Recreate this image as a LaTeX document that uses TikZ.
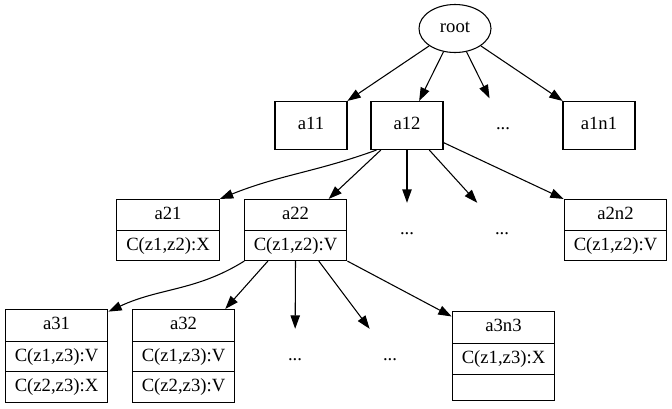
\documentclass[tikz,border=0pt]{standalone}
\usepackage{fontspec}
\setmainfont{Liberation Serif}
\usetikzlibrary{arrows.meta,shapes.geometric,shapes.multipart}
\begin{document}
\begin{tikzpicture}[x=0.75pt,y=-0.75pt,
  every node/.style={font=\fontsize{14}{16}\selectfont, text height=10pt, text depth=3.5pt, line width=0.8pt},
  arr/.style={line width=0.8pt,-{Triangle[length=10pt,width=7pt]}},
  oval/.style={draw,ellipse,minimum width=54pt,minimum height=36pt,inner sep=0pt},
  plainbox/.style={draw,rectangle,minimum width=54pt,minimum height=36pt,inner sep=0pt},
  dots/.style={rectangle,minimum width=54pt,minimum height=40pt,inner sep=0pt},
  recb/.style={draw,rectangle split,rectangle split parts=2,minimum width=77pt,inner xsep=2pt,inner ysep=4.5pt},
  recc/.style={draw,rectangle split,rectangle split parts=3,minimum width=77pt,inner xsep=2pt,inner ysep=4.75pt}]
\useasboundingbox (0,0) rectangle (672,408);
\node[oval] (root) at (455,28.5) {root};
\node[plainbox] (a11) at (311,125.5) {a11};
\node[plainbox] (a12) at (407,125.5) {a12};
\node[dots] (d1) at (503,125.5) {...};
\node[plainbox] (a1n1) at (599,125.5) {a1n1};
\node[recb] (a21) at (168,230) {a21\nodepart{two}C(z1,z2):X};
\node[recb] (a22) at (295.5,230) {a22\nodepart{two}C(z1,z2):V};
\node[dots] (d21) at (407,230) {...};
\node[dots] (d22) at (502,230) {...};
\node[recb] (a2n2) at (615.5,230) {a2n2\nodepart{two}C(z1,z2):V};
\node[recc] (a31) at (56.5,356) {a31\nodepart{two}C(z1,z3):V\nodepart{three}C(z2,z3):X};
\node[recc] (a32) at (183.5,356) {a32\nodepart{two}C(z1,z3):V\nodepart{three}C(z2,z3):V};
\node[dots] (d31) at (295,356) {...};
\node[dots] (d32) at (390,356) {...};
\node[recc] (a3n3) at (503.5,356) {a3n3\nodepart{two}C(z1,z3):X\nodepart{three}\phantom{C}};
\draw[arr] (root) -- (a11);
\draw[arr] (root) -- (a12);
\draw[arr] (root) -- (d1);
\draw[arr] (root) -- (a1n1);
\draw[arr] ([xshift=4.5pt]a12.south west) to[out=-160,in=22] (a21.north east);
\draw[arr] (a12) -- (a22);
\draw[arr] (a12.south) -- (d21);
\draw[arr] (a12) -- (d22);
\draw[arr] (a12) -- (a2n2.north west);
\draw[arr] ([xshift=0.5pt]a22.south west) to[out=-148,in=25] ([yshift=-2pt]a31.north east);
\draw[arr] (a22) -- (a32);
\draw[arr] (a22.south) -- (d31);
\draw[arr] (a22) -- (d32);
\draw[arr] (a22.south east) -- ([yshift=-4pt]a3n3.north west);
\end{tikzpicture}
\end{document}
